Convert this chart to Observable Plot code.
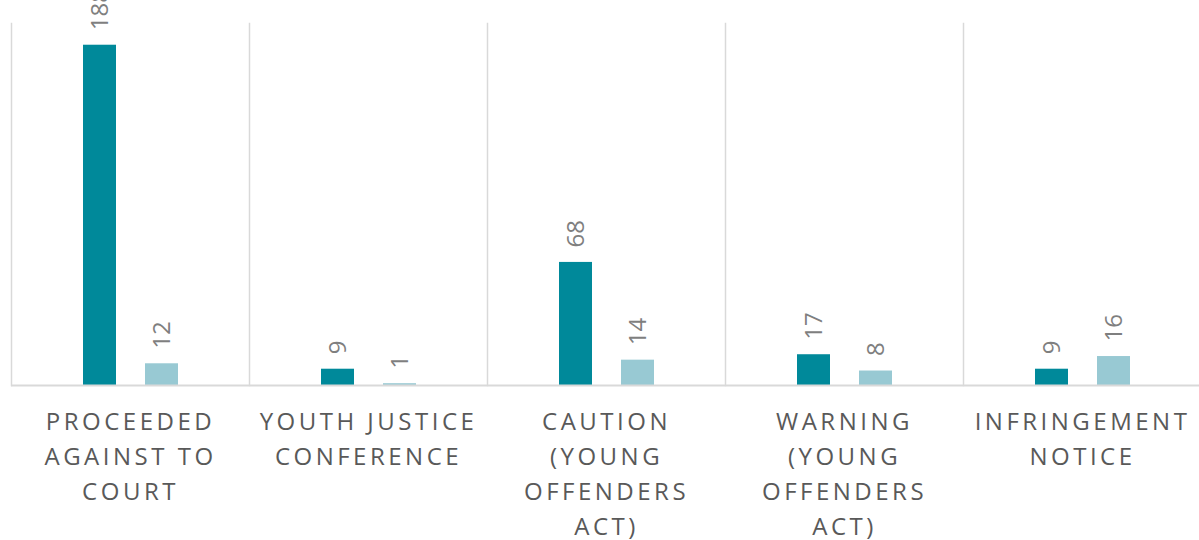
<!DOCTYPE html>
<html>
<head>
<meta charset="utf-8">
<script src="https://cdn.jsdelivr.net/npm/d3@7"></script>
<script src="https://cdn.jsdelivr.net/npm/@observablehq/plot@0.6"></script>
<style>
  html, body { margin: 0; padding: 0; background: #fff; overflow: hidden; }
  #chart svg { display: block; }
</style>
</head>
<body>
<div id="chart"></div>
<script>
const categories = [
  "Proceeded against to court",
  "Youth justice conference",
  "Caution (Young Offenders Act)",
  "Warning (Young Offenders Act)",
  "Infringement notice"
];
const categoryLabels = [
  "PROCEEDED\nAGAINST TO\nCOURT",
  "YOUTH JUSTICE\nCONFERENCE",
  "CAUTION\n(YOUNG\nOFFENDERS\nACT)",
  "WARNING\n(YOUNG\nOFFENDERS\nACT)",
  "INFRINGEMENT\nNOTICE"
];
const seriesNames = ["Series A", "Series B"];
const seriesA = [188, 9, 68, 17, 9];
const seriesB = [12, 1, 14, 8, 16];
const seriesColors = ["#00899A", "#98C9D3"];

const data = [];
categories.forEach((c, i) => {
  data.push({category: c, series: seriesNames[0], value: seriesA[i]});
  data.push({category: c, series: seriesNames[1], value: seriesB[i]});
});
const labelRows = categories.map((c, i) => ({category: c, label: categoryLabels[i]}));

const FONT = "'Open Sans', sans-serif";

const chart = Plot.plot({
  width: 1199,
  height: 540,
  marginTop: 23,
  marginBottom: 155,
  marginLeft: 10,
  marginRight: -3,
  style: {background: "#fff", fontFamily: FONT, overflow: "visible"},
  fx: {domain: categories, padding: 0, axis: null},
  x: {domain: seriesNames, paddingInner: 0.468, paddingOuter: 1.15, axis: null},
  y: {domain: [0, 200], axis: null},
  color: {domain: seriesNames, range: seriesColors},
  marks: [
    Plot.frame({anchor: "left", stroke: "#d9d9d9", strokeWidth: 1.5}),
    Plot.barY(data, {fx: "category", x: "series", y: "value", fill: "series"}),
    Plot.ruleY([0], {stroke: "#d9d9d9", strokeWidth: 2}),
    Plot.text(data, {
      fx: "category", x: "series", y: "value", text: d => String(d.value),
      rotate: -90, textAnchor: "start", lineAnchor: "middle",
      dy: -15, fontSize: 24, fill: "#7f7f7f"
    }),
    Plot.text(labelRows, {
      fx: "category", text: "label", frameAnchor: "bottom",
      lineAnchor: "top", dy: 20, lineHeight: 1.46,
      fontSize: 24, fill: "#595959"
    })
  ]
});
document.getElementById("chart").appendChild(chart);
// letter spacing for category labels
const textGroups = chart.querySelectorAll('g[aria-label="text"]');
if (textGroups.length) {
  const last = textGroups[textGroups.length - 1];
  last.style.letterSpacing = "3.5px";
}
</script>
</body>
</html>
